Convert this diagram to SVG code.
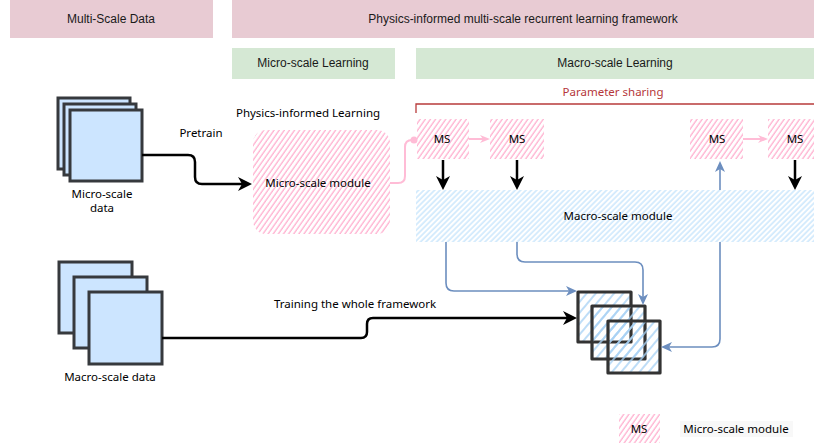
<svg xmlns="http://www.w3.org/2000/svg" width="814" height="448" viewBox="0 0 814 448">
<defs>
<style>
.hdr{font-family:"Liberation Sans",Arial,sans-serif;font-size:12px;fill:#1a1a1a;text-anchor:middle}
.t{font-family:"Noto Sans","DejaVu Sans",sans-serif;font-size:11.5px;fill:#000;text-anchor:middle}
.data{fill:#cce5ff;stroke:#36393d;stroke-width:3}
.stk{fill:url(#hs);stroke:#333;stroke-width:3.2;stroke-linejoin:round}
.blk{fill:none;stroke:#000;stroke-width:2.5}
.blu{fill:none;stroke:#6c8ebf;stroke-width:1.6}
.pnk{fill:none;stroke:#ffbcd6;stroke-width:2}
</style>
<pattern id="hp" width="4.2" height="4.2" patternUnits="userSpaceOnUse" patternTransform="rotate(35)">
<line x1="1" y1="0" x2="1" y2="4.2" stroke="#ffb0cf" stroke-width="1.3"/>
</pattern>
<pattern id="hb" width="3.8" height="3.8" patternUnits="userSpaceOnUse" patternTransform="rotate(45)">
<line x1="1" y1="0" x2="1" y2="3.8" stroke="#bde0fb" stroke-width="1.2"/>
</pattern>
<pattern id="hs" width="7" height="7" patternUnits="userSpaceOnUse" patternTransform="rotate(40)">
<line x1="1" y1="0" x2="1" y2="7" stroke="#a8d2f5" stroke-width="1.5"/>
</pattern>
<marker id="ab" viewBox="0 0 14 14" markerWidth="14" markerHeight="14" refX="5" refY="7" orient="auto" markerUnits="userSpaceOnUse">
<path d="M0,0 L14,7 L0,14 L4,7 z" fill="#000"/>
</marker>
<marker id="au" viewBox="0 0 11 10" markerWidth="11" markerHeight="10" refX="4" refY="5" orient="auto" markerUnits="userSpaceOnUse">
<path d="M0,0 L11,5 L0,10 L3,5 z" fill="#6c8ebf"/>
</marker>
<marker id="ap" viewBox="0 0 10 8" markerWidth="10" markerHeight="8" refX="3" refY="4" orient="auto" markerUnits="userSpaceOnUse">
<path d="M0,0 L10,4 L0,8 L3,4 z" fill="#ffbcd6"/>
</marker>
</defs>

<g id="hdr-multiscale"><rect x="10" y="0" width="203" height="38" fill="#e8cbd3"/><text class="hdr" x="111" y="23">Multi-Scale Data</text></g>
<g id="hdr-framework"><rect x="232" y="0" width="582" height="38" fill="#e8cbd3"/><text class="hdr" x="523" y="23">Physics-informed multi-scale recurrent learning framework</text></g>
<g id="hdr-micro"><rect x="232" y="48" width="163" height="31" fill="#d5e8d4"/><text class="hdr" x="313" y="67">Micro-scale Learning</text></g>
<g id="hdr-macro"><rect x="416" y="48" width="398" height="31" fill="#d5e8d4"/><text class="hdr" x="615" y="67">Macro-scale Learning</text></g>

<g id="param-sharing">
<path d="M416,113 V104 H814" fill="none" stroke="#b83b3b" stroke-width="1.3"/>
<text class="t" x="613" y="96" style="fill:#b5373a">Parameter sharing</text>
</g>

<g id="micro-data">
<rect class="data" x="58" y="98" width="72" height="71"/>
<rect class="data" x="64" y="104" width="72" height="71"/>
<rect class="data" x="70" y="110" width="72" height="71"/>
<text class="t" x="102" y="198">Micro-scale</text>
<text class="t" x="102" y="212">data</text>
</g>

<g id="macro-data">
<rect class="data" x="59" y="262" width="73" height="71"/>
<rect class="data" x="74" y="277" width="73" height="71"/>
<rect class="data" x="89" y="292" width="73" height="72"/>
<text class="t" x="110" y="381">Macro-scale data</text>
</g>

<g id="micro-module">
<text class="t" x="308" y="117">Physics-informed Learning</text>
<rect x="253" y="130" width="137" height="104" rx="13" fill="url(#hp)"/>
<text class="t" x="318" y="187">Micro-scale module</text>
</g>

<g id="ms1"><rect x="417" y="119" width="52" height="40" fill="url(#hp)"/><text class="t" x="442" y="143">MS</text></g>
<g id="ms2"><rect x="490" y="119" width="54" height="40" fill="url(#hp)"/><text class="t" x="517" y="143">MS</text></g>
<g id="ms3"><rect x="690" y="119" width="53" height="40" fill="url(#hp)"/><text class="t" x="717" y="143">MS</text></g>
<g id="ms4"><rect x="768" y="119" width="46" height="40" fill="url(#hp)"/><text class="t" x="795" y="143">MS</text></g>

<g id="macro-module">
<rect x="416" y="190" width="398" height="52" fill="url(#hb)"/>
<text class="t" x="618" y="220">Macro-scale module</text>
</g>

<g id="output-stack">
<rect class="stk" x="578" y="292" width="53" height="50"/>
<rect class="stk" x="592" y="306" width="53" height="53"/>
<rect class="stk" x="608" y="321" width="52" height="52"/>
</g>

<g id="legend">
<rect x="619" y="414" width="41" height="29" fill="url(#hp)"/>
<text class="t" x="639" y="433">MS</text>
<rect x="680" y="421" width="113" height="16" fill="#f8f8f8"/>
<text class="t" x="736" y="433">Micro-scale module</text>
</g>

<g id="connectors">
<path class="blk" d="M142,155 H188 Q195,155 195,162 V177 Q195,184 202,184 H243" marker-end="url(#ab)"/>
<text class="t" x="201" y="137">Pretrain</text>
<path class="pnk" d="M390,183 H398 Q405,183 405,176 V147 Q405,140 412,140 H414"/>
<circle cx="414" cy="140" r="3.5" fill="#ffbcd6"/>
<path class="pnk" d="M469,139 H483" stroke-width="1.5" marker-end="url(#ap)"/>
<path class="pnk" d="M743,139 H761" stroke-width="1.5" marker-end="url(#ap)"/>
<path class="blk" d="M443,160 V181" marker-end="url(#ab)"/>
<path class="blk" d="M517,160 V181" marker-end="url(#ab)"/>
<path class="blk" d="M795,160 V181" marker-end="url(#ab)"/>
<path class="blu" d="M720,190 V168" stroke-width="2" marker-end="url(#au)"/>
<path class="blu" d="M446,242 V283 Q446,291 454,291 H570" marker-end="url(#au)"/>
<path class="blu" d="M517,242 V254 Q517,262 525,262 H635 Q643,262 643,270 V298" marker-end="url(#au)"/>
<path class="blu" d="M720,242 V339 Q720,347 712,347 H668" marker-end="url(#au)"/>
<path class="blk" d="M162,338 H361 Q367,338 367,332 V324 Q367,318 373,318 H568" marker-end="url(#ab)"/>
<text class="t" x="355" y="308">Training the whole framework</text>
</g>
</svg>
